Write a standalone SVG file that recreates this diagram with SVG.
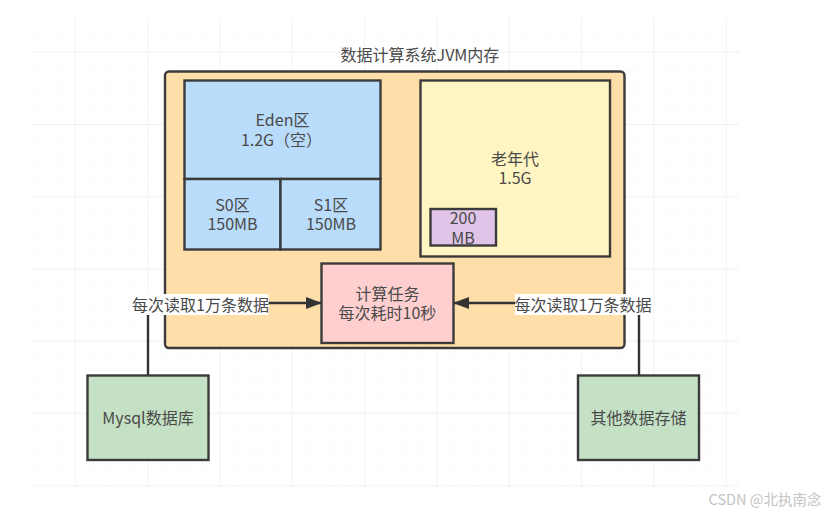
<svg xmlns="http://www.w3.org/2000/svg" width="835" height="516" viewBox="0 0 835 516">
<style>
text{font-family:"Noto Sans CJK SC","Noto Sans",sans-serif;font-size:16px;fill:#4a4a4a;text-anchor:middle}
.b{stroke:#3b3b3b;stroke-width:2.4}
.c{fill:none;stroke:#333;stroke-width:2.4}
.mn{stroke:#f7f7f7;stroke-width:1}
.mj{stroke:#eeeeee;stroke-width:1.3}
</style>
<defs>
<pattern id="gm" width="18.08" height="18" x="21.5" y="16.7" patternUnits="userSpaceOnUse"><path class="mn" d="M18.08 0V18M0 18H18.08" fill="none"/></pattern>
<pattern id="gj" width="72.3" height="72.3" x="3.7" y="-19.6" patternUnits="userSpaceOnUse"><path class="mj" d="M72.3 0V72.3M0 72.3H72.3" fill="none"/></pattern>
<marker id="arrow" markerWidth="16" markerHeight="12" refX="15" refY="6" orient="auto" markerUnits="userSpaceOnUse"><path d="M0 0L16 6L0 12Z" fill="#333"/></marker>
</defs>
<rect width="835" height="516" fill="#fff"/>
<g id="grid">
<rect x="32" y="17" width="707" height="470" fill="url(#gm)"/>
<rect x="32" y="17" width="707" height="470" fill="url(#gj)"/>
</g>
<text x="420" y="61">数据计算系统JVM内存</text>
<g id="jvm"><rect class="b" x="165" y="71.5" width="459.5" height="276.5" rx="4" fill="#ffdfa9"/></g>
<g id="eden"><rect class="b" x="184.500" y="80.500" width="196" height="98.500" fill="#b9dcfb"/><text y="126"><tspan x="282.500">Eden区</tspan><tspan x="281.500" dy="20">1.2G（空）</tspan></text></g>
<g id="s0"><rect class="b" x="184.500" y="179" width="96" height="70.500" fill="#b9dcfb"/><text y="211"><tspan x="232.500">S0区</tspan><tspan x="232.500" dy="19">150MB</tspan></text></g>
<g id="s1"><rect class="b" x="280.500" y="179" width="100" height="70.500" fill="#b9dcfb"/><text y="211"><tspan x="331">S1区</tspan><tspan x="331" dy="19">150MB</tspan></text></g>
<g id="old"><rect class="b" x="420.500" y="80.500" width="189.500" height="176" fill="#fff5c2"/><text y="165"><tspan x="515">老年代</tspan><tspan x="515" dy="19">1.5G</tspan></text></g>
<g id="mb200"><rect class="b" x="430.500" y="209" width="65.500" height="36.500" fill="#e0c5e8"/><text y="224"><tspan x="463">200</tspan><tspan x="463" dy="20">MB</tspan></text></g>
<g id="task"><rect class="b" x="321.500" y="263.500" width="132" height="79.500" fill="#ffcfcf"/><text y="300"><tspan x="387.500">计算任务</tspan><tspan x="387.500" dy="19">每次耗时10秒</tspan></text></g>
<g id="mysql"><rect class="b" x="87.500" y="375.500" width="121" height="84.500" fill="#c5e1c5"/><text x="148" y="424">Mysql数据库</text></g>
<g id="other"><rect class="b" x="578" y="375.500" width="121" height="84.500" fill="#c5e1c5"/><text x="638.500" y="424">其他数据存储</text></g>
<g id="connectors">
<path class="c" d="M148 375V303H321" marker-end="url(#arrow)"/>
<path class="c" d="M639 375V303H454" marker-end="url(#arrow)"/>
<rect x="133" y="294" width="135.500" height="21" fill="#fff"/>
<rect x="515" y="294" width="136" height="21" fill="#fff"/>
<text x="200.500" y="311">每次读取1万条数据</text>
<text x="583" y="311">每次读取1万条数据</text>
</g>
<text x="765" y="505" style="font-size:14.5px;fill:#c4c4c4">CSDN @北执南念</text>
</svg>
